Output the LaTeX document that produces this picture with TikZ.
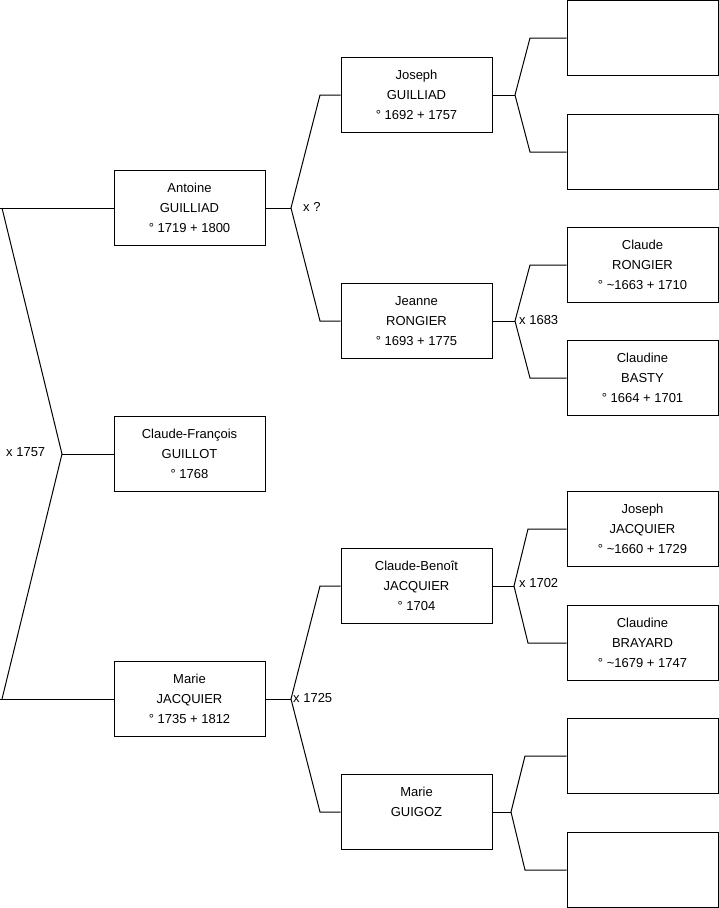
\documentclass[tikz,border=0pt]{standalone}
\usepackage{fontspec}
\setmainfont{Liberation Sans}
\begin{document}
\begin{tikzpicture}[x=1pt,y=-1pt,
  person/.style={draw=black,line width=1pt,minimum width=151pt,minimum height=75pt,inner sep=0pt,align=center,font=\fontsize{13}{20}\selectfont},
  link/.style={draw=black,line width=1pt,line join=miter},
  lbl/.style={anchor=west,inner sep=0pt,font=\fontsize{13}{14}\selectfont}]
\useasboundingbox (0,0) rectangle (719,908);
% column 1
\node[person] (antoine) at (189.5,208) {Antoine\\GUILLIAD\\° 1719 + 1800};
\node[person] (cf) at (189.5,454) {Claude-François\\GUILLOT\\° 1768};
\node[person] (mariej) at (189.5,699) {Marie\\JACQUIER\\° 1735 + 1812};
% column 2
\node[person] (joseph) at (416.5,95) {Joseph\\GUILLIAD\\° 1692 + 1757};
\node[person] (jeanne) at (416.5,321) {Jeanne\\RONGIER\\° 1693 + 1775};
\node[person] (cb) at (416.5,586) {Claude-Benoît\\JACQUIER\\° 1704};
\node[person] (mg) at (416.5,812) {Marie\\GUIGOZ\\\mbox{}};
% column 3
\node[person] (e1) at (642.5,38) {};
\node[person] (e2) at (642.5,152) {};
\node[person] (cr) at (642.5,265) {Claude\\RONGIER\\° \textasciitilde 1663 + 1710};
\node[person] (cbasty) at (642.5,378) {Claudine\\BASTY\\° 1664 + 1701};
\node[person] (jj) at (642.5,529) {Joseph\\JACQUIER\\° \textasciitilde 1660 + 1729};
\node[person] (cbray) at (642.5,643) {Claudine\\BRAYARD\\° \textasciitilde 1679 + 1747};
\node[person] (e3) at (642.5,756) {};
\node[person] (e4) at (642.5,870) {};
% left fork
\coordinate (l0) at (0,208);
\coordinate (l1) at (2,208);
\coordinate (lf) at (62,454);
\coordinate (l2) at (2,699);
\coordinate (l3) at (0,699);
\draw[link] (l0) -- (antoine.west);
\draw[link] (l3) -- (mariej.west);
\draw[link] (l1) -- (lf) -- (l2);
\draw[link] (lf) -- (cf.west);
\node[lbl] (m1757) at (6,452) {x 1757};
% Antoine fork
\coordinate (af) at (291,208);
\coordinate (a1) at (320,95);
\coordinate (a2) at (320,321);
\draw[link] (antoine.east) -- (af);
\draw[link] (joseph.west) -- (a1) -- (af) -- (a2) -- (jeanne.west);
\node[lbl] (mq) at (303,207) {x ?};
% Marie J fork
\coordinate (mf) at (291,699);
\coordinate (m1) at (320,586);
\coordinate (m2) at (320,812);
\draw[link] (mariej.east) -- (mf);
\draw[link] (cb.west) -- (m1) -- (mf) -- (m2) -- (mg.west);
\node[lbl] (m1725) at (293,698) {x 1725};
% Joseph fork
\coordinate (jf) at (515,95);
\coordinate (j1) at (530,38);
\coordinate (j2) at (530,152);
\draw[link] (joseph.east) -- (jf);
\draw[link] (e1.west) -- (j1) -- (jf) -- (j2) -- (e2.west);
% Jeanne fork
\coordinate (nf) at (515,321);
\coordinate (n1) at (530,265);
\coordinate (n2) at (530,378);
\draw[link] (jeanne.east) -- (nf);
\draw[link] (cr.west) -- (n1) -- (nf) -- (n2) -- (cbasty.west);
\node[lbl] (m1683) at (519,320) {x 1683};
% Claude-Benoit fork
\coordinate (bf) at (514,586);
\coordinate (b1) at (528,529);
\coordinate (b2) at (528,643);
\draw[link] (cb.east) -- (bf);
\draw[link] (jj.west) -- (b1) -- (bf) -- (b2) -- (cbray.west);
\node[lbl] (m1702) at (519,583) {x 1702};
% Marie G fork
\coordinate (gf) at (511,812);
\coordinate (g1) at (525,756);
\coordinate (g2) at (525,870);
\draw[link] (mg.east) -- (gf);
\draw[link] (e3.west) -- (g1) -- (gf) -- (g2) -- (e4.west);
\end{tikzpicture}
\end{document}
